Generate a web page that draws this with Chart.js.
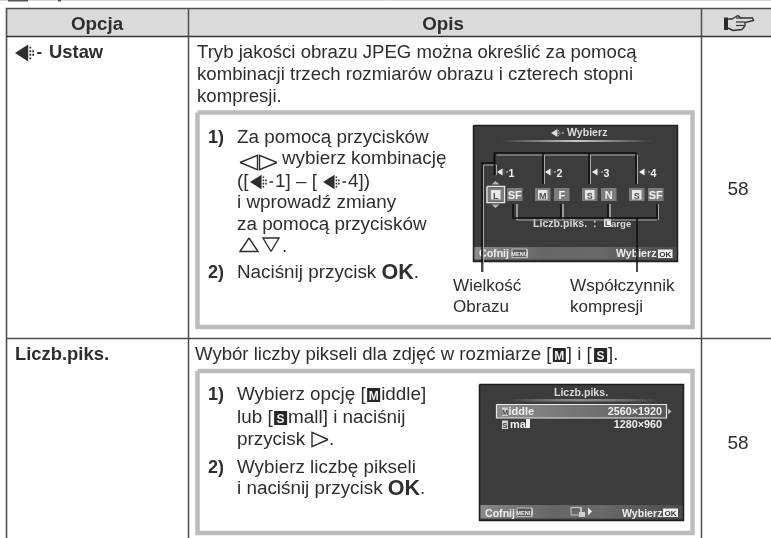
<!DOCTYPE html>
<html lang="pl">
<head>
<meta charset="utf-8">
<title>Opcja / Opis</title>
<script src="https://cdn.jsdelivr.net/npm/chart.js@4/dist/chart.umd.js"></script>
<style>
    html, body { margin: 0; padding: 0; background: #fff; }
    canvas { display: block; filter: blur(0.35px); }
</style>
</head>
<body>
<canvas id="page" width="771" height="538"></canvas>
<script>
// Tekst tabeli
const columnTitles = ['Opcja', 'Opis'];
const optionNames = ['Ustaw', 'Liczb.piks.'];
const pageRefs = ['58', '58'];
const introLines = [
    'Tryb jakości obrazu JPEG można określić za pomocą',
    'kombinacji trzech rozmiarów obrazu i czterech stopni',
    'kompresji.'
];
const sizeIntro = ['Wybór liczby pikseli dla zdjęć w rozmiarze [', '] i [', '].'];
const stepNumbers = ['1)', '2)'];
const calloutLeft = ['Wielkość', 'Obrazu'];
const calloutRight = ['Współczynnik', 'kompresji'];
const qualitySizes = ['L', 'M', 'S', 'S'];
const qualityRates = ['SF', 'F', 'N', 'SF'];
const qualityNumbers = ['1', '2', '3', '4'];
const pixelModes = ['iddle', 'ma'];
const pixelSizes = ['2560×1920', '1280×960'];

// Siatka strony (jednostki osi = piksele strony)
const pageWidth = 771;
const pageHeight = 538;
const columnEdges = [6.5, 188.5, 701.5];
const rowEdges = [8.5, 36.5, 338.5];

const SANS = '"Liberation Sans", Arial, sans-serif';
const INK = '#2e2e2e';
const RULE = '#4d4d4d';
const FRAME = '#bcbcbc';
const SCREEN = '#3c3c3c';
const BODY = 18.6;
const STEP = 18.85;
const SCREEN_TEXT = 10.6;

const canvas = document.getElementById('page');
const ctx = canvas.getContext('2d');

const belowText = [];
const aboveText = [];
const textItems = [];
let target = belowText;

const shape = (points, fill, stroke, width = 1) => {
    target.push({
        data: points.map(([x, y]) => ({ x, y })),
        showLine: true,
        tension: 0,
        pointRadius: 0,
        borderColor: stroke || 'transparent',
        borderWidth: stroke ? width : 0,
        backgroundColor: fill || 'transparent',
        fill: fill ? 'shape' : false,
    });
};
const rect = (x0, y0, x1, y1, fill, stroke, width) =>
    shape([[x0, y0], [x1, y0], [x1, y1], [x0, y1], [x0, y0]], fill, stroke, width);
const path = (points, stroke, width) => shape(points, null, stroke, width);

const hGradient = (x0, x1, stops) => {
    const g = ctx.createLinearGradient(x0, 0, x1, 0);
    stops.forEach(([at, color]) => g.addColorStop(at, color));
    return g;
};

const font = (size, bold) => `${bold ? 'bold ' : ''}${size}px ${SANS}`;
const label = (text, x, y, size, opts = {}) => {
    textItems.push({ text, x, y, font: font(size, opts.bold), color: opts.color || INK, align: opts.align || 'left' });
};
const widthOf = (text, size, bold) => {
    ctx.font = font(size, bold);
    return ctx.measureText(text).width;
};

// Symbol jakości obrazu: grot, kropkowany ogon i kreska
const qualityIcon = (x, cy, s, color) => {
    shape([[x, cy], [x + 11 * s, cy - 7 * s], [x + 11 * s, cy + 7 * s], [x, cy]], color);
    [12, 14.4].forEach((dx, col) => {
        [-4.5, -1.5, 1.5, 4.5].slice(col ? 1 : 0, col ? 3 : 4).forEach(dy => {
            rect(x + dx * s, cy + (dy - 0.8) * s, x + (dx + 1.5) * s, cy + (dy + 0.8) * s, color);
        });
    });
    rect(x + 18.5 * s, cy - 0.8 * s, x + 22 * s, cy + 0.8 * s, color);
};

const triangleLeft = (x, cy, w, h) =>
    path([[x, cy], [x + w, cy - h / 2], [x + w, cy + h / 2], [x, cy]], INK, 1.4);
const triangleRight = (x, cy, w, h) =>
    path([[x + w, cy], [x, cy - h / 2], [x, cy + h / 2], [x + w, cy]], INK, 1.4);
const triangleUp = (cx, y0, y1, half) =>
    path([[cx, y0], [cx + half, y1], [cx - half, y1], [cx, y0]], INK, 1.4);
const triangleDown = (cx, y0, y1, half) =>
    path([[cx, y1], [cx + half, y0], [cx - half, y0], [cx, y1]], INK, 1.4);

// Ciemny kwadrat z literą, jak w tekście instrukcji: [M], [S]
const inlineChip = (letter, x, baseline) => {
    rect(x + 1.5, baseline - 12, x + 14.5, baseline + 2, '#262626');
    label(letter, x + 8, baseline - 0.5, 12, { bold: true, color: '#f2f2f2', align: 'center' });
    return x + 15.5;
};

const menuChip = (x0, y0) => {
    rect(x0, y0, x0 + 15, y0 + 8.5, '#5a5a5a', '#cfcfcf', 0.8);
    label('MENU', x0 + 7.5, y0 + 7, 5.6, { bold: true, color: '#f0f0f0', align: 'center' });
};

// Tabela
rect(columnEdges[0], rowEdges[0], pageWidth, rowEdges[1], '#dadada');
path([[columnEdges[0], pageHeight], [columnEdges[0], rowEdges[0]], [pageWidth, rowEdges[0]]], RULE, 1.6);
path([[columnEdges[0], rowEdges[1]], [pageWidth, rowEdges[1]]], '#333', 1.4);
path([[columnEdges[0], rowEdges[2]], [pageWidth, rowEdges[2]]], RULE, 1.5);
path([[columnEdges[1], rowEdges[0]], [columnEdges[1], pageHeight]], RULE, 1.5);
path([[columnEdges[2], rowEdges[0]], [columnEdges[2], pageHeight]], RULE, 1.5);

// Resztka nagłówka strony u góry
path([[0, 0.5], [pageWidth, 0.5]], '#d5d5d5', 1);
rect(8, 0, 28, 1.5, '#555');
rect(58, 0, 61, 1.5, '#555');

label(columnTitles[0], 97, 30, 18.8, { bold: true, align: 'center' });
label(columnTitles[1], 443, 30, 18.8, { bold: true, align: 'center' });

// Rączka w nagłówku kolumny z odnośnikiem
rect(724, 17.5, 728, 30, '#2a2a2a');
path([[728, 19], [732, 19], [738, 15.5], [741, 18], [752.5, 18], [753.5, 20.5], [745, 22.5], [745, 26], [742, 29.5], [733, 30.5], [728, 28]], '#333', 1.4);
path([[736, 22], [745, 22]], '#333', 1.2);
path([[736, 25.5], [744, 25.5]], '#333', 1.2);
path([[736, 18], [741, 18]], '#333', 1.2);

qualityIcon(15, 53, 1.2, INK);
label(optionNames[0], 49, 58, 18.4, { bold: true });
label(optionNames[1], 15, 360, 18.4, { bold: true });
label(pageRefs[0], 738, 195, 19, { align: 'center' });
label(pageRefs[1], 738, 449, 19, { align: 'center' });

introLines.forEach((line, i) => label(line, 197, [58, 80, 102][i], BODY));

// Wiersz 2: zdanie wstępne z symbolami
label(sizeIntro[0], 195, 360, BODY);
let cursor = 195 + widthOf(sizeIntro[0], BODY);
cursor = inlineChip('M', cursor, 360);
label(sizeIntro[1], cursor, 360, BODY);
cursor += widthOf(sizeIntro[1], BODY) + 1;
cursor = inlineChip('S', cursor, 360);
label(sizeIntro[2], cursor, 360, BODY);

// Ramki z instrukcją
rect(197.5, 112.5, 692.5, 327, null, FRAME, 4.5);
rect(197.5, 371, 692.5, 533, null, FRAME, 4.5);

// Zdanie zakończone pogrubionym OK
const okLine = (text, x, y) => {
    label(text, x, y, STEP);
    const okX = x + widthOf(text, STEP);
    label('OK', okX, y + 0.5, 21.5, { bold: true });
    label('.', okX + widthOf('OK', 21.5, true), y, STEP);
};

// Kroki, wiersz 1
label(stepNumbers[0], 208, 143, 18, { bold: true });
label('Za pomocą przycisków', 237, 143, STEP);
triangleLeft(240, 162.5, 17.5, 14.5);
triangleRight(259.5, 162.5, 17.5, 14.5);
label('wybierz kombinację', 282, 164, STEP);
label('([', 237, 187, STEP);
qualityIcon(250, 182, 1.05, INK);
label('1] – [', 275, 187, STEP);
qualityIcon(323, 182, 1.05, INK);
label('4])', 348, 187, STEP);
label('i wprowadź zmiany', 237, 208, STEP);
label('za pomocą przycisków', 237, 230, STEP);
triangleUp(249, 238, 251.5, 9);
triangleDown(271, 238, 251.5, 8);
label('.', 282, 252, STEP);
label(stepNumbers[1], 208, 278, 18, { bold: true });
okLine('Naciśnij przycisk ', 237, 278);

calloutLeft.forEach((line, i) => label(line, 453, 291 + i * 20.5, 17.1));
calloutRight.forEach((line, i) => label(line, 570, 291 + i * 20.5, 17.1));

// Kroki, wiersz 2
label(stepNumbers[0], 208, 400, 18, { bold: true });
label('Wybierz opcję [', 237, 400, STEP);
cursor = inlineChip('M', 237 + widthOf('Wybierz opcję [', STEP), 400);
label('iddle]', cursor, 400, STEP);
label('lub [', 237, 423, STEP);
cursor = inlineChip('S', 237 + widthOf('lub [', STEP), 423);
label('mall] i naciśnij', cursor, 423, STEP);
label('przycisk', 237, 445, STEP);
triangleRight(312, 439.5, 16, 14.5);
label('.', 329, 445, STEP);
label(stepNumbers[1], 208, 473, 18, { bold: true });
label('Wybierz liczbę pikseli', 237, 473, STEP);
okLine('i naciśnij przycisk ', 237, 494);

// Ekran aparatu: jakość
const fade = (x0, x1, y0, y1, mid) =>
    rect(x0, y0, x1, y1, hGradient(x0, x1, [[0, 'rgba(200,200,200,0)'], [0.5, mid], [1, 'rgba(200,200,200,0)']]));
const BAR = [[0, '#8a8a8a'], [0.35, '#666'], [0.6, '#6a6a6a'], [1, '#4a4a4a']];

rect(473.5, 125.5, 677.5, 261.5, SCREEN, '#1d1d1d', 1.5);
fade(500, 653, 140, 142, '#c8c8c8');
qualityIcon(551, 133, 0.58, '#dedede');
label('Wybierz', 567, 136, SCREEN_TEXT, { bold: true, color: '#dcdcdc' });

const chipXs = [[488, 507], [535, 554], [582, 601], [629, 648]];
const chipW = 15.5;
chipXs.forEach(([sizeX, rateX], i) => {
    rect(sizeX, 188, sizeX + chipW, 201, '#7d7d7d');
    rect(rateX, 188, rateX + chipW, 201, '#7d7d7d');
    rect(sizeX + 3, 190, sizeX + chipW - 3, 199.5, '#e8e8e8');
    label(qualitySizes[i], sizeX + chipW / 2, 198.5, 9, { bold: true, color: '#4a4a4a', align: 'center' });
    label(qualityRates[i], rateX + chipW / 2, 199, 11, { bold: true, color: '#f2f2f2', align: 'center' });
    const iconX = [497, 545, 592, 639][i];
    qualityIcon(iconX, 172, 0.5, '#f0f0f0');
    label(qualityNumbers[i], iconX + 11.5, 177, SCREEN_TEXT, { bold: true, color: '#f0f0f0' });
});
rect(487, 186.5, 504.5, 202.5, null, '#e8e8e8', 1.5);
shape([[495.5, 181], [491.5, 184.5], [499.5, 184.5], [495.5, 181]], '#b5b5b5');
shape([[495.5, 208], [491.5, 204.5], [499.5, 204.5], [495.5, 208]], '#b5b5b5');

label('Liczb.piks.', 533, 227, SCREEN_TEXT, { bold: true, color: '#d8d8d8' });
label(':', 593, 227, SCREEN_TEXT, { bold: true, color: '#d8d8d8' });
rect(604, 218, 611, 227, '#efefef');
label('L', 607.5, 226, 8, { bold: true, color: '#3c3c3c', align: 'center' });
label('arge', 611, 227, 9.6, { bold: true, color: '#d8d8d8' });

rect(474.5, 247, 676.5, 259.5, hGradient(474, 677, BAR));
label('Cofnij', 479, 257, SCREEN_TEXT, { bold: true, color: '#ededed' });
menuChip(512, 249);
label('Wybierz', 616, 257, SCREEN_TEXT, { bold: true, color: '#ededed' });
rect(658, 249.5, 672.5, 258, '#f2f2f2');
label('OK', 665.2, 256.5, 8, { bold: true, color: '#333', align: 'center' });

// Ekran aparatu: liczba pikseli
rect(479.5, 384.5, 683.5, 520.5, SCREEN, '#1d1d1d', 1.5);
label(optionNames[1], 581, 396, SCREEN_TEXT, { bold: true, color: '#dcdcdc', align: 'center' });
fade(510, 657, 399, 401.5, '#8a8a8a');

rect(496.5, 404.5, 666.5, 418, hGradient(496, 667, [[0, '#8c8c8c'], [0.7, '#6a6a6a'], [1, '#565656']]), '#e8e8e8', 1.2);
rect(502, 407.5, 508, 416, '#d0d0d0');
label('M', 505, 415, 7.5, { bold: true, color: '#444', align: 'center' });
label(pixelModes[0], 508.5, 415, 11, { bold: true, color: '#f0f0f0' });
label(pixelSizes[0], 662, 415, 10.8, { bold: true, color: '#f0f0f0', align: 'right' });
shape([[668, 408.5], [671.5, 411.5], [668, 414.5], [668, 408.5]], '#bdbdbd');
rect(502, 420.5, 508, 429, '#d0d0d0');
label('S', 505, 428, 7.5, { bold: true, color: '#444', align: 'center' });
label(pixelModes[1], 510, 428, 11, { bold: true, color: '#f0f0f0' });
rect(526, 419, 530, 428, '#f2f2f2');
label(pixelSizes[1], 662, 428, 10.8, { bold: true, color: '#f0f0f0', align: 'right' });

rect(480.5, 505, 682.5, 518.5, hGradient(480, 683, BAR));
label('Cofnij', 485, 517, SCREEN_TEXT, { bold: true, color: '#ededed' });
menuChip(517, 508);
rect(571, 507.5, 581, 515, null, '#cfcfcf', 1);
rect(579, 512, 585, 517, '#cfcfcf');
shape([[588, 507.5], [592, 511.5], [588, 515.5], [588, 507.5]], '#ededed');
label('Wybierz', 622, 517, SCREEN_TEXT, { bold: true, color: '#ededed' });
rect(663, 508.5, 678, 517, '#f2f2f2');
label('OK', 670.5, 515.5, 8, { bold: true, color: '#333', align: 'center' });

// Linie objaśnień leżą nad napisami ekranu
target = aboveText;
const SHADE = '#a8a8a8';
const LEADER = '#0e0e0e';

path([[496.5, 155], [637.5, 155]], SHADE, 1);
[544.5, 590.5, 637.5].forEach(x => path([[x, 155], [x, 184]], SHADE, 1));
path([[483.5, 272], [483.5, 165], [496.5, 165], [496.5, 175]], SHADE, 1);
path([[482, 272], [482, 163], [494.5, 163], [494.5, 153], [636, 153], [636, 184]], LEADER, 1.5);
path([[494.5, 153], [494.5, 175]], LEADER, 1.5);
[543, 589].forEach(x => path([[x, 153], [x, 184]], LEADER, 1.5));

path([[517, 204], [517, 220], [657, 220]], SHADE, 1);
[563, 610].forEach(x => path([[x, 204], [x, 220]], SHADE, 1));
path([[658.5, 204], [658.5, 220]], SHADE, 1);
path([[513, 204], [513, 218], [657, 218], [657, 204]], LEADER, 1.5);
[561, 608].forEach(x => path([[x, 204], [x, 218]], LEADER, 1.5));
path([[637, 218], [637, 272]], LEADER, 1.5);

// Warstwa, po której rysowany jest tekst
const textLayer = { data: [], textLayer: true };
// Chart.js rysuje zbiory od końca, stąd odwrócona kolejność
const layers = [...belowText, textLayer, ...aboveText].reverse();

const textPlugin = {
    id: 'pageText',
    afterDatasetDraw(chart, args) {
        if (!chart.data.datasets[args.index].textLayer) return;
        const { x, y } = chart.scales;
        const c = chart.ctx;
        c.save();
        c.textBaseline = 'alphabetic';
        textItems.forEach(item => {
            c.font = item.font;
            c.fillStyle = item.color;
            c.textAlign = item.align;
            c.fillText(item.text, x.getPixelForValue(item.x), y.getPixelForValue(item.y));
        });
        c.restore();
    },
};

new Chart(ctx, {
    type: 'scatter',
    data: { datasets: layers },
    plugins: [textPlugin],
    options: {
        responsive: false,
        animation: false,
        events: [],
        layout: { padding: 0 },
        plugins: { legend: { display: false }, tooltip: { enabled: false } },
        scales: {
            x: { type: 'linear', min: 0, max: pageWidth, display: false },
            y: { type: 'linear', min: 0, max: pageHeight, reverse: true, display: false },
        },
    },
});
</script>
</body>
</html>
